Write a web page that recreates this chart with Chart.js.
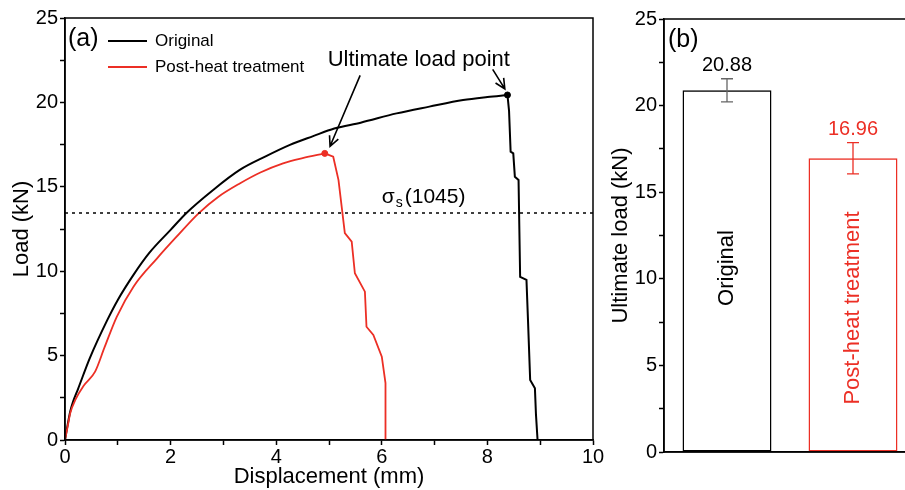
<!DOCTYPE html>
<html>
<head>
<meta charset="utf-8">
<script src="https://cdn.jsdelivr.net/npm/chart.js@4.4.1/dist/chart.umd.min.js"></script>
<style>
  html, body { margin: 0; padding: 0; background: #fff; overflow: hidden; width: 905px; height: 490px; }
  #boxA { position: absolute; left: 0; top: 0; width: 610px; height: 490px; }
  #boxB { position: absolute; left: 600px; top: 0; width: 316px; height: 490px; }
</style>
</head>
<body>
<div id="boxA"><canvas id="curveChart"></canvas></div>
<div id="boxB"><canvas id="barChart"></canvas></div>
<script>
const RED = "#ec2f25";
const FONT = '"Liberation Sans", Arial, sans-serif';

// (a) load-displacement curves
const originalDisp = [0, 0.05, 0.1, 0.15, 0.25, 0.47, 0.8, 1.0, 1.3, 1.6, 2.0, 2.3, 2.8, 3.31, 3.8, 4.26, 4.7, 5.1, 5.6, 6.28, 6.9, 7.54, 8.0, 8.38,
  8.41, 8.44, 8.49, 8.52, 8.59, 8.62, 8.74, 8.77, 8.81, 8.9, 8.92, 8.95];
const originalLoad = [0, 0.9, 1.7, 2.25, 3.05, 4.85, 7.1, 8.3, 9.8, 11.1, 12.45, 13.45, 14.8, 16.0, 16.8, 17.48, 18.0, 18.45, 18.8, 19.35, 19.75, 20.14, 20.32, 20.44,
  19.5, 17.08, 16.98, 15.6, 15.4, 9.67, 9.48, 7.0, 3.55, 3.06, 1.5, 0];
const heatDisp = [0, 0.05, 0.1, 0.2, 0.35, 0.57, 0.75, 0.98, 1.3, 1.74, 2.1, 2.53, 2.9, 3.31, 3.7, 4.13, 4.5, 4.92,
  5.08, 5.18, 5.24, 5.3, 5.43, 5.49, 5.68, 5.71, 5.84, 6.0, 6.07, 6.07];
const heatLoad = [0, 0.8, 1.6, 2.4, 3.2, 4.05, 5.5, 7.3, 9.1, 10.75, 12.0, 13.43, 14.4, 15.2, 15.85, 16.39, 16.7, 16.98,
  16.78, 15.4, 13.82, 12.26, 11.75, 9.88, 8.79, 6.71, 6.22, 4.94, 3.37, 0];
const yieldLoad = 13.45;   // sigma_s (1045)
const peakOriginal = [8.38, 20.44];
const peakHeat = [4.92, 16.98];

// (b) ultimate load bars
const barNames = ["Original", "Post-heat treatment"];
const barValues = [20.88, 16.96];
const barErrors = [0.67, 0.9];

const zip = (xs, ys) => xs.map((x, i) => ({ x: x, y: ys[i] }));
// rising part (smoothed) up to the peak, fracture part drawn straight
const riseOf = (xs, ys, px) => zip(xs, ys).slice(0, xs.indexOf(px) + 1);
const dropOf = (xs, ys, px) => zip(xs, ys).slice(xs.indexOf(px));

function arrow(ctx, x1, y1, x2, y2) {
  const a = Math.atan2(y2 - y1, x2 - x1);
  const h = 11;
  ctx.beginPath();
  ctx.moveTo(x1, y1);
  ctx.lineTo(x2, y2);
  ctx.moveTo(x2 - h * Math.cos(a - 0.45), y2 - h * Math.sin(a - 0.45));
  ctx.lineTo(x2, y2);
  ctx.lineTo(x2 - h * Math.cos(a + 0.45), y2 - h * Math.sin(a + 0.45));
  ctx.stroke();
}

const decorA = {
  id: "decorA",
  afterDraw(chart) {
    const ctx = chart.ctx, a = chart.chartArea;
    const xs = chart.scales.x, ys = chart.scales.y;
    ctx.save();
    ctx.strokeStyle = "#000";
    ctx.lineWidth = 1.5;
    ctx.strokeRect(a.left, a.top, a.right - a.left, a.bottom - a.top);

    ctx.fillStyle = "#000";
    ctx.textBaseline = "middle";
    ctx.font = "25px " + FONT;
    ctx.fillText("(a)", a.left + 3, a.top + 21);

    // legend
    ctx.lineWidth = 2;
    ctx.beginPath(); ctx.moveTo(108, 41); ctx.lineTo(147, 41); ctx.stroke();
    ctx.strokeStyle = RED;
    ctx.beginPath(); ctx.moveTo(108, 67); ctx.lineTo(147, 67); ctx.stroke();
    ctx.font = "17px " + FONT;
    ctx.fillText("Original", 155, 41);
    ctx.fillText("Post-heat treatment", 155, 67);

    // annotations
    ctx.textAlign = "center";
    ctx.font = "22px " + FONT;
    ctx.fillText("Ultimate load point", xs.getPixelForValue(6.7), ys.getPixelForValue(22.5));
    ctx.strokeStyle = "#000";
    ctx.lineWidth = 1.6;
    arrow(ctx, xs.getPixelForValue(5.59), ys.getPixelForValue(21.6), xs.getPixelForValue(5.02), ys.getPixelForValue(17.4));
    arrow(ctx, xs.getPixelForValue(8.1), ys.getPixelForValue(21.96), xs.getPixelForValue(8.33), ys.getPixelForValue(20.8));

    ctx.textAlign = "left";
    ctx.font = "21px " + FONT;
    const sx = xs.getPixelForValue(6.0), sy = ys.getPixelForValue(yieldLoad + 0.95);
    ctx.fillText("σ", sx, sy);
    const sw = ctx.measureText("σ").width;
    ctx.font = "14px " + FONT;
    ctx.fillText("s", sx + sw + 1, sy + 6);
    ctx.font = "21px " + FONT;
    ctx.fillText("(1045)", sx + sw + 10, sy);
    ctx.restore();
  }
};

const tickFont = { family: FONT, size: 20 };
const titleFont = { family: FONT, size: 22 };
const blackLine = { showLine: true, borderColor: "#000", borderWidth: 2, pointRadius: 0, order: 2 };
const redLine = { showLine: true, borderColor: RED, borderWidth: 1.8, pointRadius: 0, order: 1 };

new Chart(document.getElementById("curveChart"), {
  type: "scatter",
  data: {
    datasets: [
      Object.assign({ label: "Original", data: riseOf(originalDisp, originalLoad, peakOriginal[0]), cubicInterpolationMode: "monotone" }, blackLine),
      Object.assign({ label: "Original drop", data: dropOf(originalDisp, originalLoad, peakOriginal[0]) }, blackLine),
      Object.assign({ label: "Post-heat treatment", data: riseOf(heatDisp, heatLoad, peakHeat[0]), cubicInterpolationMode: "monotone" }, redLine),
      Object.assign({ label: "Post-heat drop", data: dropOf(heatDisp, heatLoad, peakHeat[0]) }, redLine),
      { label: "yield", data: [{ x: 0, y: yieldLoad }, { x: 10, y: yieldLoad }], showLine: true, borderColor: "#000", borderWidth: 1.5, borderDash: [3, 4], pointRadius: 0 },
      { label: "peakO", data: [{ x: peakOriginal[0], y: peakOriginal[1] }], pointRadius: 3, backgroundColor: "#000", borderColor: "#000" },
      { label: "peakH", data: [{ x: peakHeat[0], y: peakHeat[1] }], pointRadius: 3, backgroundColor: RED, borderColor: RED }
    ]
  },
  options: {
    responsive: true,
    maintainAspectRatio: false,
    animation: false,
    events: [],
    layout: { padding: { left: 0, top: 18, right: 17, bottom: 0 } },
    plugins: { legend: { display: false }, tooltip: { enabled: false } },
    scales: {
      x: {
        type: "linear", min: 0, max: 10,
        afterFit: s => { s.height = 50; },
        ticks: { stepSize: 1, color: "#000", font: tickFont, padding: 0, maxRotation: 0,
          callback: v => (v % 2 === 0 ? v : "") },
        grid: { drawOnChartArea: false, color: "#000", tickLength: 5, tickWidth: 1.5 },
        border: { color: "#000", width: 1.5 },
        title: { display: true, text: "Displacement (mm)", color: "#000", font: titleFont, padding: { top: 0, bottom: 0 } }
      },
      y: {
        min: 0, max: 25,
        afterFit: s => { s.width = 65; },
        ticks: { stepSize: 2.5, color: "#000", font: tickFont, padding: 2,
          callback: v => (v % 5 === 0 ? v : "") },
        grid: { drawOnChartArea: false, color: "#000", tickLength: 5, tickWidth: 1.5 },
        border: { color: "#000", width: 1.5 },
        title: { display: true, text: "Load (kN)", color: "#000", font: titleFont, padding: { top: 9, bottom: 0 } }
      }
    }
  },
  plugins: [decorA]
});

const decorB = {
  id: "decorB",
  afterDraw(chart) {
    const ctx = chart.ctx, a = chart.chartArea;
    const ys = chart.scales.y;
    const meta = chart.getDatasetMeta(0);
    ctx.save();
    ctx.strokeStyle = "#000";
    ctx.lineWidth = 1.5;
    ctx.strokeRect(a.left, a.top, a.right - a.left, a.bottom - a.top);
    ctx.fillStyle = "#000";
    ctx.textBaseline = "middle";
    ctx.font = "25px " + FONT;
    ctx.fillText("(b)", a.left + 4, a.top + 21);

    barValues.forEach((v, i) => {
      const col = i === 0 ? "#000" : RED;
      const x = meta.data[i].x;
      const yTop = ys.getPixelForValue(v + barErrors[i]);
      const yBot = ys.getPixelForValue(v - barErrors[i]);
      ctx.strokeStyle = i === 0 ? "#666" : RED;
      ctx.lineWidth = 1.3;
      ctx.beginPath();
      ctx.moveTo(x, yTop); ctx.lineTo(x, yBot);
      ctx.moveTo(x - 6, yTop); ctx.lineTo(x + 6, yTop);
      ctx.moveTo(x - 6, yBot); ctx.lineTo(x + 6, yBot);
      ctx.stroke();

      ctx.fillStyle = col;
      ctx.textAlign = "center";
      ctx.font = "20px " + FONT;
      ctx.fillText(v.toFixed(2), x, yTop - 13);

      ctx.save();
      ctx.translate(x, i === 0 ? 268 : 308);
      ctx.rotate(-Math.PI / 2);
      ctx.font = "22px " + FONT;
      ctx.fillText(barNames[i], 0, 0);
      ctx.restore();
    });
    ctx.restore();
  }
};

new Chart(document.getElementById("barChart"), {
  type: "bar",
  data: {
    labels: barNames,
    datasets: [{
      data: barValues,
      backgroundColor: "rgba(255,255,255,0)",
      borderColor: ["#000", RED],
      borderWidth: 1.5,
      borderSkipped: false,
      categoryPercentage: 1,
      barPercentage: 0.706
    }]
  },
  options: {
    responsive: true,
    maintainAspectRatio: false,
    animation: false,
    events: [],
    layout: { padding: { left: 0, top: 19, right: 0, bottom: 0 } },
    plugins: { legend: { display: false }, tooltip: { enabled: false } },
    scales: {
      x: {
        afterFit: s => { s.height = 38; },
        ticks: { display: false },
        grid: { display: false },
        border: { color: "#000", width: 1.5 }
      },
      y: {
        min: 0, max: 25,
        afterFit: s => { s.width = 64; },
        ticks: { stepSize: 2.5, color: "#000", font: tickFont, padding: 2,
          callback: v => (v % 5 === 0 ? v : "") },
        grid: { drawOnChartArea: false, color: "#000", tickLength: 5, tickWidth: 1.5 },
        border: { color: "#000", width: 1.5 },
        title: { display: true, text: "Ultimate load (kN)", color: "#000", font: titleFont, padding: { top: 8, bottom: 0 } }
      }
    }
  },
  plugins: [decorB]
});
</script>
</body>
</html>
